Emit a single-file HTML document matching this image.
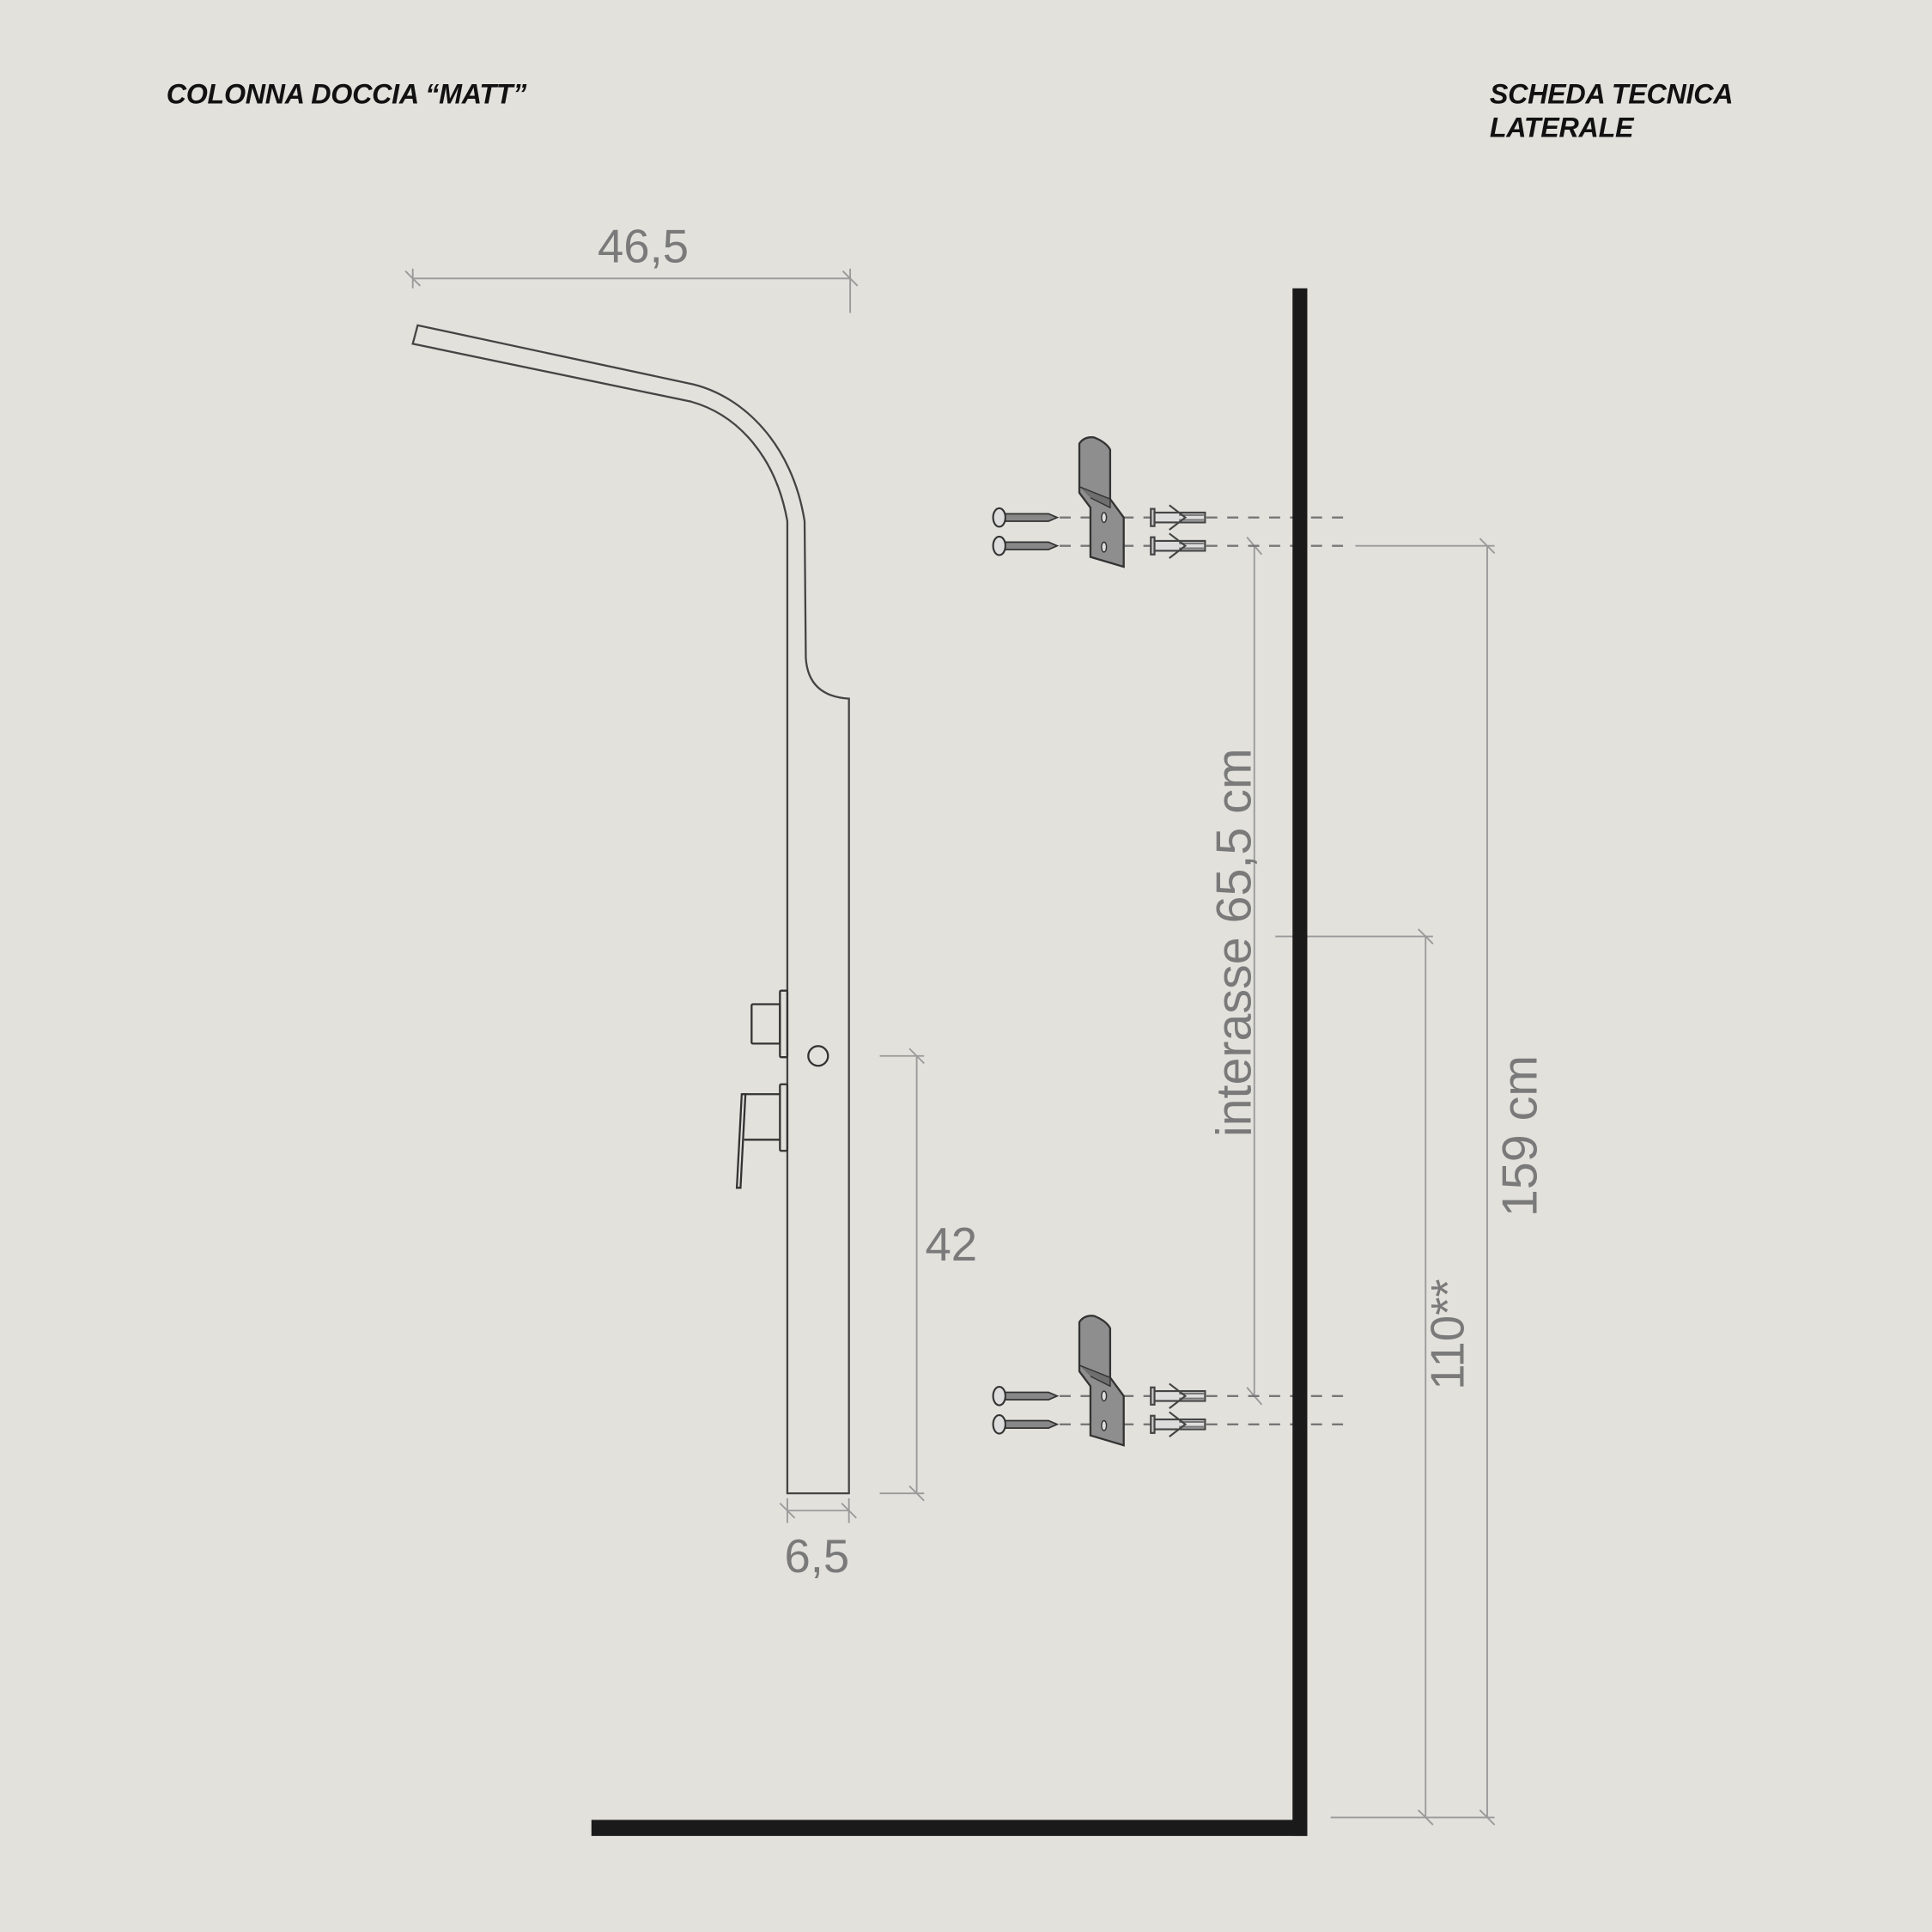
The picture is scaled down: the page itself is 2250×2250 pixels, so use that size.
<!DOCTYPE html>
<html><head><meta charset="utf-8"><style>
html,body{margin:0;padding:0;background:#e2e1dc;}
svg{display:block;}
</style></head><body>
<svg width="2250" height="2250" viewBox="0 0 1568 1568" xmlns="http://www.w3.org/2000/svg">
<defs>
<g id="screw">
<ellipse cx="811" cy="0" rx="5" ry="7.5" fill="#ddd" stroke="#333" stroke-width="1.5"/>
<path d="M816,-3 L851,-3 L858,0 L851,3 L816,3 Z" fill="#888" stroke="#333" stroke-width="1.2"/>
</g>
<g id="anchor" fill="none" stroke="#444" stroke-width="1.5">
<rect x="934" y="-7" width="3" height="14" fill="#ccc"/>
<rect x="937" y="-4" width="41" height="8" fill="#ddd"/>
<path d="M957,-2 L977,-2 M957,2 L977,2" stroke="#777"/>
<path d="M949,-10 L962,0 L949,10"/>
</g>
<g id="set">
<g stroke="#777" stroke-width="1.6" stroke-dasharray="9,8" fill="none">
<path d="M860,420 L1095,420 M860,443 L1095,443"/>
</g>
<path d="M876,360 Q880,354 888,355 Q898,359 901,365 L901,405 L912,420 L912,460 L885,452 L885,412 L876,400 Z" fill="#8e8e8e" stroke="#333" stroke-width="1.6"/>
<path d="M876,395 L901,405 L901,412 L885,404" fill="#6f6f6f" stroke="#333" stroke-width="1"/>
<ellipse cx="896" cy="420" rx="2" ry="4" fill="#ddd" stroke="#333"/>
<ellipse cx="896" cy="444" rx="2" ry="4" fill="#ddd" stroke="#333"/>
<use href="#screw" transform="translate(0,420)"/>
<use href="#screw" transform="translate(0,443)"/>
<use href="#anchor" transform="translate(0,420)"/>
<use href="#anchor" transform="translate(0,443)"/>
</g>
</defs>
<rect width="1568" height="1568" fill="#e2e1dc"/>
<g font-family="Liberation Sans, sans-serif" font-weight="bold" font-style="italic" font-size="22.5" fill="#111" letter-spacing="-0.2">
<text x="135" y="84">COLONNA DOCCIA “MATT”</text>
<text x="1209" y="84">SCHEDA TECNICA</text>
<text x="1209" y="111">LATERALE</text>
</g>
<!-- column -->
<path d="M339,264 L563,312 C603,322 643,360 653,423 L654,534 Q656,565 689,567 L689,1212 L639,1212 L639,423 C630,372 600,337 561,326 L335,279 Z" fill="none" stroke="#444" stroke-width="1.6"/>
<g fill="none" stroke="#333" stroke-width="1.6">
<rect x="633" y="804" width="6" height="54" rx="1"/>
<rect x="610" y="815" width="23" height="32" rx="1"/>
<circle cx="664" cy="857" r="8"/>
<rect x="633" y="880" width="6" height="54" rx="1"/>
<path d="M603,888 L633,888 M604,925 L633,925"/>
<path d="M602,888 L605,888 L601,964 L598,964 Z"/>
</g>
<!-- dimensions -->
<g stroke="#9a9a9a" stroke-width="1.3" fill="none">
<path d="M335,226 L690,226 M335,218 L335,234 M690,218 L690,254 M329,220 L341,232 M684,220 L696,232"/>
<path d="M639,1226 L689,1226 M639,1216 L639,1236 M689,1216 L689,1236 M633,1220 L645,1232 M683,1220 L695,1232"/>
<path d="M744,857 L744,1212 M714,857 L750,857 M714,1212 L750,1212 M738,851 L750,863 M738,1206 L750,1218"/>
<path d="M1018,443 L1018,1133 M1012,436 L1024,450 M1012,1126 L1024,1140"/>
<path d="M1207,443 L1207,1475 M1100,443 L1213,443 M1080,1475 L1213,1475 M1201,437 L1213,449 M1201,1469 L1213,1481"/>
<path d="M1157,760 L1157,1475 M1035,760 L1163,760 M1151,754 L1163,766 M1151,1469 L1163,1481"/>
</g>
<g font-family="Liberation Sans, sans-serif" fill="#7a7a7a" font-size="38" text-anchor="middle">
<text x="522" y="213">46,5</text>
<text x="663" y="1276">6,5</text>
<text x="772" y="1023">42</text>
<text transform="translate(1015,765) rotate(-90)" font-size="40">interasse 65,5 cm</text>
<text transform="translate(1247,922) rotate(-90)" font-size="40">159 cm</text>
<text transform="translate(1188,1083) rotate(-90)" font-size="38">110**</text>
</g>
<use href="#set"/>
<use href="#set" transform="translate(0,713)"/>
<!-- wall & floor -->
<rect x="1049" y="234" width="12" height="1256" fill="#1a1a1a"/>
<rect x="480" y="1477" width="581" height="13" fill="#1a1a1a"/>
</svg>
</body></html>
